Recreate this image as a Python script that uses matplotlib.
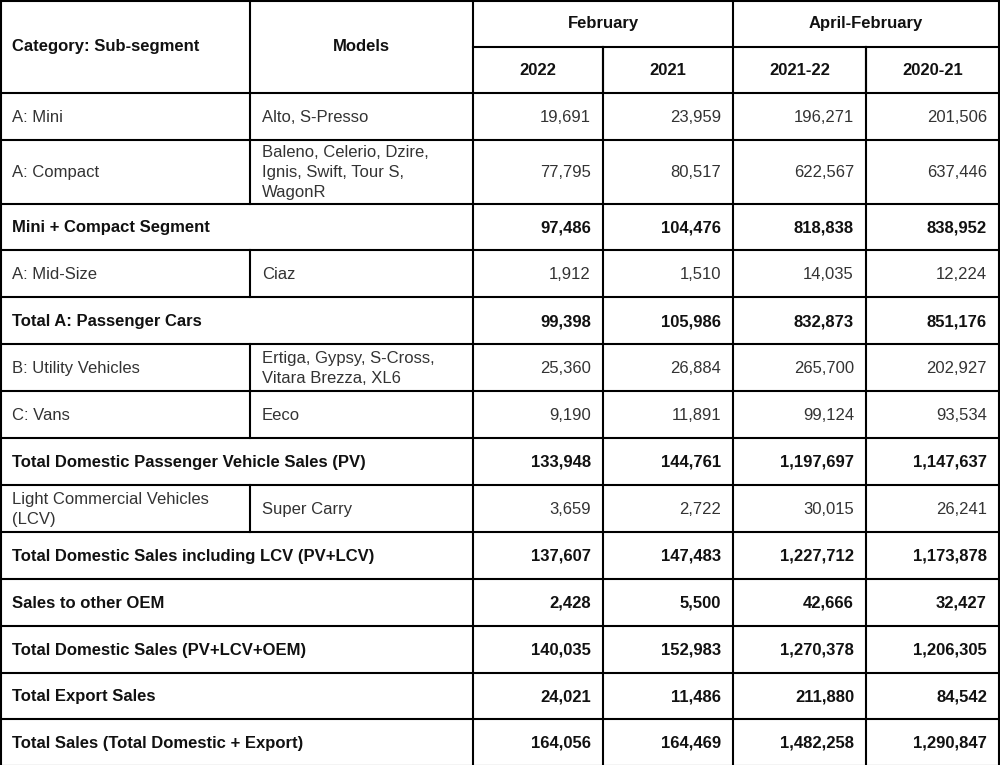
import matplotlib.pyplot as plt

plt.rcParams['font.family'] = ['Liberation Sans', 'DejaVu Sans']

# table content
categories = [
    "A: Mini", "A: Compact", "Mini + Compact Segment", "A: Mid-Size",
    "Total A: Passenger Cars", "B: Utility Vehicles", "C: Vans",
    "Total Domestic Passenger Vehicle Sales (PV)",
    "Light Commercial Vehicles\n(LCV)",
    "Total Domestic Sales including LCV (PV+LCV)",
    "Sales to other OEM", "Total Domestic Sales (PV+LCV+OEM)",
    "Total Export Sales", "Total Sales (Total Domestic + Export)",
]
models = [
    "Alto, S-Presso", "Baleno, Celerio, Dzire,\nIgnis, Swift, Tour S,\nWagonR", None,
    "Ciaz", None, "Ertiga, Gypsy, S-Cross,\nVitara Brezza, XL6", "Eeco", None,
    "Super Carry", None, None, None, None, None,
]
feb_2022 = [19691, 77795, 97486, 1912, 99398, 25360, 9190, 133948, 3659,
            137607, 2428, 140035, 24021, 164056]
feb_2021 = [23959, 80517, 104476, 1510, 105986, 26884, 11891, 144761, 2722,
            147483, 5500, 152983, 11486, 164469]
aprfeb_2122 = [196271, 622567, 818838, 14035, 832873, 265700, 99124, 1197697,
               30015, 1227712, 42666, 1270378, 211880, 1482258]
aprfeb_2021 = [201506, 637446, 838952, 12224, 851176, 202927, 93534, 1147637,
               26241, 1173878, 32427, 1206305, 84542, 1290847]
group_labels = ["February", "April-February"]
period_labels = ["2022", "2021", "2021-22", "2020-21"]

# layout (pixels)
col_x = [0, 250, 473, 603, 733, 866, 999]
head_y = [0, 46.7, 93.3]
row_h = [46.7, 63.5, 46, 47.5, 47, 47, 47, 46.5, 47.5, 46.5, 47, 47, 46.5, 46.5]

fig = plt.figure(figsize=(10, 7.65), dpi=100)
ax = fig.add_axes([0, 0, 1, 1])
ax.set_xlim(0, 1000)
ax.set_ylim(765, 0)
ax.axis('off')

LW = 1.5
K = 'black'
FS = 12
REG = '#333333'
BOLD = '#111111'
pad = 12
LS = 1.42

def hline(y, x0, x1, lw=LW):
    ax.plot([x0, x1], [y, y], color=K, lw=lw, solid_capstyle='projecting')

def vline(x, y0, y1, lw=LW):
    ax.plot([x, x], [y0, y1], color=K, lw=lw, solid_capstyle='projecting')

# header
hline(0.8, 0, 999)
hline(head_y[1], col_x[2], 999)
hline(head_y[2], 0, 999)
ax.text(pad, head_y[2] / 2, "Category: Sub-segment", ha='left', va='center',
        fontsize=FS, fontweight='bold', color=BOLD)
ax.text((col_x[1] + col_x[2]) / 2, head_y[2] / 2, "Models", ha='center',
        va='center', fontsize=FS, fontweight='bold', color=BOLD)
for i, g in enumerate(group_labels):
    ax.text((col_x[2 + 2 * i] + col_x[4 + 2 * i]) / 2, head_y[1] / 2, g,
            ha='center', va='center', fontsize=FS, fontweight='bold', color=BOLD)
for i, p in enumerate(period_labels):
    ax.text((col_x[2 + i] + col_x[3 + i]) / 2, (head_y[1] + head_y[2]) / 2, p,
            ha='center', va='center', fontsize=FS, fontweight='bold', color=BOLD)
vline(col_x[1], 0, head_y[2])
vline(col_x[3], head_y[1], head_y[2])
vline(col_x[5], head_y[1], head_y[2])

# body
y = head_y[2]
for i, cat in enumerate(categories):
    y0, y1 = y, y + row_h[i]
    yc = (y0 + y1) / 2 + 1
    bold = models[i] is None
    w = 'bold' if bold else 'normal'
    c = BOLD if bold else REG
    ax.text(pad, yc, cat, ha='left', va='center', fontsize=FS, fontweight=w,
            color=c, linespacing=LS)
    if not bold:
        ax.text(col_x[1] + pad, yc, models[i], ha='left', va='center',
                fontsize=FS, color=REG, linespacing=LS)
        vline(col_x[1], y0, y1)
    vals = [feb_2022[i], feb_2021[i], aprfeb_2122[i], aprfeb_2021[i]]
    for j, v in enumerate(vals):
        ax.text(col_x[3 + j] - pad, yc, f"{v:,}", ha='right', va='center',
                fontsize=FS, fontweight=w, color=c)
    hline(y1, 0, 999)
    y = y1

bottom = y
for x in [col_x[0] + 0.8, col_x[2], col_x[4], col_x[6]]:
    vline(x, 0, bottom)
for x in [col_x[3], col_x[5]]:
    vline(x, head_y[1], bottom)

fig.savefig("out.png", dpi=100)
